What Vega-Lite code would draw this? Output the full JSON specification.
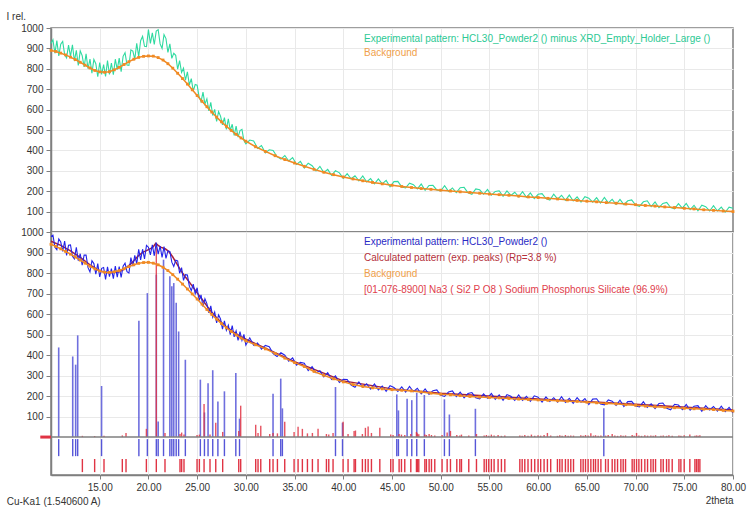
{
  "$schema": "https://vega.github.io/schema/vega-lite/v6.json",
  "padding": {"left": 5, "top": 10, "right": 2, "bottom": 2},
  "background": "white",
  "config": {
    "font": "Liberation Sans",
    "view": {"stroke": "#7f7f7f", "strokeWidth": 1.5},
    "axis": {
      "gridColor": "#e9e9e9", "gridWidth": 1,
      "domainColor": "#7f7f7f", "domainWidth": 1.5,
      "tickColor": "#7f7f7f", "tickSize": 5,
      "labelColor": "#333333", "labelFontSize": 10, "labelFont": "Liberation Sans", "labelPadding": 3, "labelOverlap": false,
      "titleFont": "Liberation Sans", "titleFontSize": 10, "titleFontWeight": "normal", "titleColor": "#333333"
    },
    "legend": {
      "orient": "none", "title": null, "padding": 0,
      "symbolSize": 0, "symbolOpacity": 0, "symbolStrokeWidth": 0, "labelOffset": 0,
      "labelFont": "Liberation Sans", "labelFontSize": 10, "labelLimit": 600
    }
  },
  "datasets": {
    "pattern": [
      {"t":10.0,"top":924,"bot":978},{"t":10.2,"top":942,"bot":984},{"t":10.4,"top":876,"bot":926},{"t":10.6,"top":938,"bot":914},{"t":10.8,"top":863,"bot":966},
      {"t":11.0,"top":921,"bot":951},{"t":11.2,"top":934,"bot":905},{"t":11.4,"top":870,"bot":956},{"t":11.6,"top":854,"bot":886},{"t":11.8,"top":916,"bot":935},
      {"t":12.0,"top":861,"bot":937},{"t":12.2,"top":918,"bot":882},{"t":12.4,"top":838,"bot":869},{"t":12.6,"top":891,"bot":925},{"t":12.8,"top":817,"bot":860},
      {"t":13.0,"top":888,"bot":894},{"t":13.2,"top":865,"bot":838},{"t":13.4,"top":809,"bot":887},{"t":13.6,"top":873,"bot":887},{"t":13.8,"top":800,"bot":826},
      {"t":14.0,"top":848,"bot":805},{"t":14.2,"top":779,"bot":860},{"t":14.4,"top":846,"bot":846},{"t":14.6,"top":825,"bot":795},{"t":14.8,"top":761,"bot":846},
      {"t":15.0,"top":831,"bot":781},{"t":15.2,"top":773,"bot":823},{"t":15.4,"top":821,"bot":827},{"t":15.6,"top":763,"bot":769},{"t":15.8,"top":840,"bot":830},
      {"t":16.0,"top":772,"bot":782},{"t":16.2,"top":828,"bot":821},{"t":16.4,"top":771,"bot":773},{"t":16.6,"top":847,"bot":834},{"t":16.8,"top":796,"bot":780},
      {"t":17.0,"top":852,"bot":831},{"t":17.2,"top":786,"bot":779},{"t":17.4,"top":861,"bot":833},{"t":17.6,"top":879,"bot":848},{"t":17.8,"top":819,"bot":807},
      {"t":18.0,"top":817,"bot":800},{"t":18.2,"top":893,"bot":875},{"t":18.4,"top":887,"bot":833},{"t":18.6,"top":847,"bot":886},{"t":18.8,"top":925,"bot":845},
      {"t":19.0,"top":860,"bot":915},{"t":19.2,"top":938,"bot":864},{"t":19.4,"top":959,"bot":916},{"t":19.6,"top":910,"bot":869},{"t":19.8,"top":909,"bot":935},
      {"t":20.0,"top":992,"bot":926},{"t":20.2,"top":925,"bot":888},{"t":20.4,"top":976,"bot":937},{"t":20.6,"top":919,"bot":884},{"t":20.8,"top":985,"bot":948},
      {"t":21.0,"top":992,"bot":892},{"t":21.2,"top":922,"bot":931},{"t":21.4,"top":900,"bot":876},{"t":21.6,"top":968,"bot":929},{"t":21.8,"top":948,"bot":871},
      {"t":22.0,"top":880,"bot":908},{"t":22.2,"top":922,"bot":905},{"t":22.4,"top":851,"bot":853},{"t":22.6,"top":876,"bot":832},{"t":22.8,"top":866,"bot":862},
      {"t":23.0,"top":798,"bot":859},{"t":23.2,"top":840,"bot":799},{"t":23.4,"top":782,"bot":826},{"t":23.6,"top":803,"bot":764},{"t":23.8,"top":744,"bot":792},
      {"t":24.0,"top":785,"bot":790},{"t":24.2,"top":721,"bot":736},{"t":24.4,"top":752,"bot":714},{"t":24.6,"top":691,"bot":746},{"t":24.8,"top":723,"bot":699},
      {"t":25.0,"top":720,"bot":728},{"t":25.2,"top":663,"bot":666},{"t":25.4,"top":639,"bot":693},{"t":25.6,"top":686,"bot":636},{"t":25.8,"top":627,"bot":674},
      {"t":26.0,"top":653,"bot":651},{"t":26.2,"top":594,"bot":606},{"t":26.4,"top":636,"bot":640},{"t":26.6,"top":571,"bot":585},{"t":26.8,"top":601,"bot":610},
      {"t":27.0,"top":542,"bot":557},{"t":27.2,"top":590,"bot":596},{"t":27.4,"top":568,"bot":576},{"t":27.6,"top":525,"bot":526},{"t":27.8,"top":561,"bot":567},
      {"t":28.0,"top":503,"bot":521},{"t":28.2,"top":555,"bot":546},{"t":28.4,"top":498,"bot":500},{"t":28.6,"top":528,"bot":543},{"t":28.8,"top":473,"bot":489},
      {"t":29.0,"top":519,"bot":518},{"t":29.2,"top":465,"bot":471},{"t":29.4,"top":497,"bot":514},{"t":29.6,"top":503,"bot":471},{"t":29.8,"top":448,"bot":501},
      {"t":30.0,"top":432,"bot":448},
      {"t":30.4,"top":451,"bot":484},{"t":30.8,"top":446,"bot":448},{"t":31.2,"top":410,"bot":459},{"t":31.6,"top":424,"bot":429},{"t":32.0,"top":388,"bot":447},
      {"t":32.4,"top":403,"bot":441},{"t":32.8,"top":400,"bot":407},{"t":33.2,"top":369,"bot":393},{"t":33.6,"top":357,"bot":411},{"t":34.0,"top":375,"bot":399},
      {"t":34.4,"top":348,"bot":370},{"t":34.8,"top":365,"bot":386},{"t":35.2,"top":331,"bot":351},{"t":35.6,"top":346,"bot":364},{"t":36.0,"top":314,"bot":360},
      {"t":36.4,"top":337,"bot":324},{"t":36.8,"top":325,"bot":343},{"t":37.2,"top":300,"bot":313},{"t":37.6,"top":322,"bot":323},{"t":38.0,"top":291,"bot":294},
      {"t":38.4,"top":307,"bot":314},{"t":38.8,"top":278,"bot":281},{"t":39.2,"top":301,"bot":298},{"t":39.6,"top":290,"bot":266},{"t":40.0,"top":263,"bot":282},
      {"t":40.4,"top":286,"bot":281},{"t":40.8,"top":261,"bot":254},{"t":41.2,"top":276,"bot":243},{"t":41.6,"top":251,"bot":269},{"t":42.0,"top":275,"bot":243},
      {"t":42.4,"top":245,"bot":260},{"t":42.8,"top":262,"bot":234},{"t":43.2,"top":236,"bot":259},{"t":43.6,"top":260,"bot":230},{"t":44.0,"top":236,"bot":249},
      {"t":44.4,"top":253,"bot":223},{"t":44.8,"top":222,"bot":250},{"t":45.2,"top":247,"bot":242},{"t":45.6,"top":248,"bot":223},{"t":46.0,"top":221,"bot":245},
      {"t":46.4,"top":216,"bot":219},{"t":46.8,"top":239,"bot":247},{"t":47.2,"top":232,"bot":221},{"t":47.6,"top":211,"bot":238},{"t":48.0,"top":235,"bot":211},
      {"t":48.4,"top":204,"bot":235},{"t":48.8,"top":228,"bot":208},{"t":49.2,"top":229,"bot":226},{"t":49.6,"top":206,"bot":230},{"t":50.0,"top":201,"bot":204},
      {"t":50.4,"top":227,"bot":198},{"t":50.8,"top":199,"bot":220},{"t":51.2,"top":216,"bot":225},{"t":51.6,"top":193,"bot":197},{"t":52.0,"top":217,"bot":219},
      {"t":52.4,"top":219,"bot":191},{"t":52.8,"top":192,"bot":212},{"t":53.2,"top":185,"bot":217},{"t":53.6,"top":211,"bot":192},{"t":54.0,"top":207,"bot":186},
      {"t":54.4,"top":185,"bot":211},{"t":54.8,"top":209,"bot":190},{"t":55.2,"top":181,"bot":213},{"t":55.6,"top":199,"bot":184},{"t":56.0,"top":202,"bot":206},
      {"t":56.4,"top":175,"bot":179},{"t":56.8,"top":201,"bot":207},{"t":57.2,"top":179,"bot":199},{"t":57.6,"top":195,"bot":179},{"t":58.0,"top":172,"bot":205},
      {"t":58.4,"top":198,"bot":179},{"t":58.8,"top":170,"bot":199},{"t":59.2,"top":192,"bot":174},{"t":59.6,"top":164,"bot":201},{"t":60.0,"top":185,"bot":194},
      {"t":60.4,"top":188,"bot":170},{"t":60.8,"top":164,"bot":196},{"t":61.2,"top":157,"bot":174},{"t":61.6,"top":185,"bot":192},{"t":62.0,"top":161,"bot":170},
      {"t":62.4,"top":180,"bot":197},{"t":62.8,"top":155,"bot":169},{"t":63.2,"top":181,"bot":189},{"t":63.6,"top":152,"bot":165},{"t":64.0,"top":172,"bot":192},
      {"t":64.4,"top":147,"bot":170},{"t":64.8,"top":173,"bot":188},{"t":65.2,"top":166,"bot":159},{"t":65.6,"top":146,"bot":185},{"t":66.0,"top":168,"bot":187},
      {"t":66.4,"top":142,"bot":161},{"t":66.8,"top":169,"bot":157},{"t":67.2,"top":143,"bot":181},{"t":67.6,"top":160,"bot":175},{"t":68.0,"top":135,"bot":155},
      {"t":68.4,"top":160,"bot":180},{"t":68.8,"top":134,"bot":149},{"t":69.2,"top":153,"bot":173},{"t":69.6,"top":157,"bot":174},{"t":70.0,"top":132,"bot":151},
      {"t":70.4,"top":126,"bot":147},{"t":70.8,"top":148,"bot":173},{"t":71.2,"top":153,"bot":145},{"t":71.6,"top":125,"bot":162},{"t":72.0,"top":147,"bot":139},
      {"t":72.4,"top":119,"bot":164},{"t":72.8,"top":140,"bot":166},{"t":73.2,"top":145,"bot":140},{"t":73.6,"top":120,"bot":133},{"t":74.0,"top":114,"bot":160},
      {"t":74.4,"top":139,"bot":156},{"t":74.8,"top":117,"bot":134},{"t":75.2,"top":140,"bot":159},{"t":75.6,"top":110,"bot":131},{"t":76.0,"top":131,"bot":150},
      {"t":76.4,"top":104,"bot":153},{"t":76.8,"top":131,"bot":126},{"t":77.2,"top":124,"bot":153},{"t":77.6,"top":103,"bot":132},{"t":78.0,"top":129,"bot":149},
      {"t":78.4,"top":103,"bot":126},{"t":78.8,"top":122,"bot":151},{"t":79.2,"top":97,"bot":124},{"t":79.6,"top":122,"bot":145},{"t":80.0,"top":116,"bot":118}
    ],
    "background": [
      {"t":10,"top":890,"bot":940},{"t":10.5,"top":885,"bot":930},{"t":11,"top":877,"bot":918},{"t":11.5,"top":868,"bot":905},{"t":12,"top":857,"bot":892},
      {"t":12.5,"top":845,"bot":878},{"t":13,"top":832,"bot":863},{"t":13.5,"top":818,"bot":848},{"t":14,"top":804,"bot":833},{"t":14.5,"top":792,"bot":820},
      {"t":15,"top":785,"bot":810},{"t":15.5,"top":783,"bot":804},{"t":16,"top":786,"bot":803},{"t":16.5,"top":795,"bot":806},{"t":17,"top":807,"bot":812},
      {"t":17.5,"top":821,"bot":821},{"t":18,"top":835,"bot":831},{"t":18.5,"top":847,"bot":840},{"t":19,"top":856,"bot":847},{"t":19.5,"top":861,"bot":851},
      {"t":20,"top":863,"bot":852},{"t":20.5,"top":862,"bot":848},{"t":21,"top":855,"bot":840},{"t":21.5,"top":843,"bot":828},{"t":22,"top":825,"bot":812},
      {"t":22.5,"top":803,"bot":792},{"t":23,"top":778,"bot":770},{"t":23.5,"top":752,"bot":746},{"t":24,"top":725,"bot":722},{"t":24.5,"top":697,"bot":698},
      {"t":25,"top":669,"bot":673},{"t":25.5,"top":641,"bot":648},{"t":26,"top":614,"bot":622},{"t":26.5,"top":588,"bot":598},{"t":27,"top":563,"bot":575},
      {"t":27.5,"top":540,"bot":553},{"t":28,"top":518,"bot":533},{"t":28.5,"top":498,"bot":515},{"t":29,"top":479,"bot":498},{"t":29.5,"top":461,"bot":483},
      {"t":30,"top":445,"bot":469},{"t":31,"top":418,"bot":450},{"t":32,"top":395,"bot":430},{"t":33,"top":374,"bot":408},{"t":34,"top":355,"bot":385},
      {"t":35,"top":338,"bot":363},{"t":36,"top":322,"bot":344},{"t":37,"top":307,"bot":320},{"t":38,"top":293,"bot":301},{"t":39,"top":281,"bot":284},
      {"t":40,"top":270,"bot":269},{"t":41,"top":260,"bot":256},{"t":42,"top":251,"bot":247},{"t":43,"top":243,"bot":240},{"t":44,"top":236,"bot":235},
      {"t":45,"top":229,"bot":231},{"t":46,"top":223,"bot":228},{"t":47,"top":218,"bot":225},{"t":48,"top":213,"bot":220},{"t":49,"top":209,"bot":214},
      {"t":50,"top":205,"bot":209},{"t":51,"top":201,"bot":206},{"t":52,"top":197,"bot":202},{"t":53,"top":194,"bot":198},{"t":54,"top":190,"bot":195},
      {"t":55,"top":186,"bot":193},{"t":56,"top":183,"bot":191},{"t":57,"top":180,"bot":188},{"t":58,"top":176,"bot":185},{"t":59,"top":172,"bot":183},
      {"t":60,"top":169,"bot":181},{"t":61,"top":165,"bot":179},{"t":62,"top":162,"bot":177},{"t":63,"top":158,"bot":175},{"t":64,"top":155,"bot":174},
      {"t":65,"top":151,"bot":170},{"t":66,"top":148,"bot":167},{"t":67,"top":144,"bot":164},{"t":68,"top":141,"bot":162},{"t":69,"top":137,"bot":158},
      {"t":70,"top":134,"bot":155},{"t":71,"top":130,"bot":151},{"t":72,"top":127,"bot":148},{"t":73,"top":123,"bot":145},{"t":74,"top":120,"bot":143},
      {"t":75,"top":116,"bot":140},{"t":76,"top":113,"bot":138},{"t":77,"top":109,"bot":136},{"t":78,"top":106,"bot":134},{"t":79,"top":103,"bot":130},
      {"t":80,"top":100,"bot":127}
    ],
    "calc": [
      {"t":10,"i":955},{"t":11,"i":935},{"t":12,"i":908},{"t":13,"i":876},{"t":14,"i":840},{"t":15,"i":810},{"t":16,"i":800},{"t":17,"i":806},
      {"t":17.5,"i":818},{"t":18,"i":836},{"t":18.5,"i":860},{"t":19,"i":886},{"t":19.25,"i":895},{"t":19.5,"i":903},{"t":19.75,"i":908},
      {"t":20,"i":914},{"t":20.25,"i":920},{"t":20.5,"i":928},{"t":20.75,"i":945},{"t":21,"i":935},{"t":21.25,"i":926},{"t":21.5,"i":922},
      {"t":21.75,"i":918},{"t":22,"i":908},{"t":22.25,"i":895},{"t":22.5,"i":878},{"t":22.75,"i":858},{"t":23,"i":838},{"t":23.25,"i":818},
      {"t":23.5,"i":800},{"t":23.75,"i":783},{"t":24,"i":768},{"t":24.5,"i":736},{"t":25,"i":703},{"t":25.5,"i":672},{"t":26,"i":640},
      {"t":26.5,"i":609},{"t":27,"i":582},{"t":27.5,"i":558},{"t":28,"i":538},{"t":29,"i":503},{"t":30,"i":477},{"t":31,"i":455},
      {"t":35,"i":368},{"t":40,"i":274},{"t":45,"i":235},{"t":50,"i":214},{"t":60,"i":186},{"t":70,"i":160},{"t":80,"i":132}
    ],
    "sticksBlue": [
      {"t":10.79,"i":437},{"t":12.23,"i":393},{"t":12.53,"i":353},{"t":12.74,"i":496},{"t":15.19,"i":249},{"t":19.02,"i":567},
      {"t":19.89,"i":702},{"t":20.81,"i":792},{"t":21.0,"i":76},{"t":21.55,"i":865},{"t":22.2,"i":784},{"t":22.4,"i":735},
      {"t":22.6,"i":751},{"t":22.85,"i":655},{"t":23.1,"i":515},{"t":23.79,"i":377},{"t":25.33,"i":280},{"t":25.75,"i":120},
      {"t":26.12,"i":263},{"t":26.6,"i":326},{"t":27.13,"i":174},{"t":27.8,"i":223},{"t":28.97,"i":312},{"t":29.35,"i":90},
      {"t":32.79,"i":211},{"t":33.58,"i":285},{"t":33.75,"i":140},{"t":39.2,"i":244},{"t":39.92,"i":70},{"t":45.49,"i":208},
      {"t":45.66,"i":130},{"t":46.55,"i":187},{"t":47.03,"i":180},{"t":47.54,"i":216},{"t":48.32,"i":205},{"t":50.38,"i":184},
      {"t":50.89,"i":110},{"t":53.56,"i":138},{"t":66.74,"i":140}
    ],
    "sticksRed": [
      {"t":13.22,"i":6},{"t":14.48,"i":5},{"t":15.44,"i":6},{"t":17.32,"i":8},{"t":17.70,"i":20},{"t":19.79,"i":40},{"t":20.81,"i":940},
      {"t":21.70,"i":20},{"t":23.24,"i":15},{"t":23.41,"i":22},{"t":23.65,"i":12},{"t":24.99,"i":10},{"t":25.23,"i":12},{"t":25.71,"i":161},
      {"t":26.32,"i":12},{"t":26.91,"i":70},{"t":27.62,"i":25},{"t":29.27,"i":30},{"t":29.47,"i":153},{"t":31.01,"i":60},{"t":31.25,"i":20},
      {"t":31.53,"i":55},{"t":32.45,"i":15},{"t":32.79,"i":20},{"t":33.24,"i":18},{"t":33.99,"i":75},{"t":34.95,"i":25},{"t":35.36,"i":50},
      {"t":35.80,"i":40},{"t":36.32,"i":18},{"t":36.83,"i":20},{"t":37.41,"i":40},{"t":38.27,"i":15},{"t":38.51,"i":12},{"t":38.95,"i":20},
      {"t":39.98,"i":75},{"t":40.49,"i":15},{"t":41.11,"i":30},{"t":41.25,"i":32},{"t":41.96,"i":15},{"t":42.27,"i":45},{"t":42.55,"i":52},
      {"t":42.89,"i":20},{"t":43.75,"i":45},{"t":44.87,"i":12},{"t":45.11,"i":10},{"t":45.73,"i":15},{"t":45.97,"i":12},{"t":46.31,"i":10},
      {"t":46.93,"i":15},{"t":47.51,"i":25},{"t":47.61,"i":18},{"t":47.75,"i":14},{"t":48.37,"i":12},{"t":48.53,"i":10},{"t":48.81,"i":15},
      {"t":49.05,"i":10},{"t":49.39,"i":8},{"t":50.14,"i":10},{"t":50.66,"i":22},{"t":51.0,"i":30},{"t":51.65,"i":10},{"t":51.96,"i":8},
      {"t":52.13,"i":12},{"t":52.88,"i":8},{"t":53.67,"i":15},{"t":54.46,"i":8},{"t":54.69,"i":10},{"t":54.93,"i":6},{"t":55.2,"i":12},
      {"t":55.48,"i":8},{"t":55.89,"i":10},{"t":56.23,"i":6},{"t":56.58,"i":8},{"t":58.12,"i":8},{"t":58.36,"i":6},{"t":58.63,"i":10},
      {"t":58.96,"i":7},{"t":59.31,"i":12},{"t":59.65,"i":6},{"t":59.99,"i":9},{"t":60.26,"i":7},{"t":60.61,"i":10},{"t":60.95,"i":20},
      {"t":61.29,"i":8},{"t":61.98,"i":6},{"t":62.22,"i":9},{"t":62.46,"i":7},{"t":62.80,"i":10},{"t":63.08,"i":6},{"t":63.35,"i":8},
      {"t":63.63,"i":7},{"t":64.38,"i":9},{"t":64.62,"i":6},{"t":64.86,"i":10},{"t":65.13,"i":8},{"t":65.41,"i":18},{"t":65.68,"i":7},
      {"t":65.89,"i":9},{"t":66.16,"i":6},{"t":66.44,"i":8},{"t":66.92,"i":7},{"t":67.19,"i":10},{"t":67.60,"i":15},{"t":67.87,"i":8},
      {"t":68.15,"i":6},{"t":68.49,"i":9},{"t":68.73,"i":7},{"t":68.97,"i":8},{"t":69.65,"i":10},{"t":69.86,"i":7},{"t":70.10,"i":20},
      {"t":70.34,"i":8},{"t":70.61,"i":6},{"t":70.95,"i":9},{"t":71.23,"i":7},{"t":71.57,"i":8},{"t":71.81,"i":6},{"t":72.05,"i":9},
      {"t":72.60,"i":7},{"t":72.84,"i":8},{"t":73.18,"i":6},{"t":73.42,"i":9},{"t":73.76,"i":7},{"t":74.45,"i":8},{"t":74.65,"i":6},
      {"t":74.99,"i":9},{"t":75.57,"i":12},{"t":76.09,"i":7},{"t":76.26,"i":8},{"t":76.43,"i":6},{"t":76.60,"i":9}
    ]
  },
  "spacing": 0,
  "bounds": "flush",
  "resolve": {"scale": {"color": "independent", "x": "independent"}, "legend": {"color": "independent"}},
  "vconcat": [
    {
      "width": 682,
      "height": 204,
      "layer": [
        {
          "data": {"name": "pattern"},
          "mark": {"type": "line", "strokeWidth": 1.1},
          "encoding": {
            "x": {"field": "t", "type": "quantitative",
                  "scale": {"domain": [10, 80], "nice": false, "zero": false},
                  "axis": {"values": [15,20,25,30,35,40,45,50,55,60,65,70,75], "tickCount": 30, "labels": false, "ticks": false, "domain": false, "title": null, "grid": true}},
            "y": {"field": "top", "type": "quantitative",
                  "scale": {"domain": [0, 1000], "nice": false},
                  "axis": {"values": [100,200,300,400,500,600,700,800,900,1000], "tickCount": 30, "format": "d", "grid": true, "labelOverlap": false,
                           "title": "I rel.", "titleAngle": 0, "titleAlign": "left", "titleBaseline": "alphabetic",
                           "titleX": -45, "titleY": -9}},
            "color": {"datum": "Experimental pattern: HCL30_Powder2 () minus XRD_Empty_Holder_Large ()",
                      "scale": {"domain": ["Experimental pattern: HCL30_Powder2 () minus XRD_Empty_Holder_Large ()", "Background"],
                                "range": ["#2fdaa0", "#f08a24"]},
                      "legend": {"legendX": 303, "legendY": 6, "rowPadding": 4,
                                 "encode": {"labels": {"update": {"fill": {"signal": "['#2cc994', '#f0a04a'][datum.index]"}}}}}}
          }
        },
        {
          "data": {"name": "background"},
          "mark": {"type": "line", "strokeWidth": 1.5, "point": {"shape": "square", "size": 8, "filled": true}},
          "encoding": {
            "x": {"field": "t", "type": "quantitative"},
            "y": {"field": "top", "type": "quantitative"},
            "color": {"datum": "Background"}
          }
        }
      ]
    },
    {
      "width": 682,
      "height": 243,
      "title": {"text": "Cu-Ka1 (1.540600 A)", "orient": "bottom", "anchor": "start", "dx": -14, "offset": -8,
                "fontSize": 10, "fontWeight": "normal", "color": "#333333", "font": "Liberation Sans"},
      "layer": [
        {
          "data": {"name": "sticksBlue"},
          "mark": {"type": "rule", "color": "#5656d8", "strokeWidth": 1.6, "opacity": 0.85},
          "encoding": {
            "x": {"field": "t", "type": "quantitative",
                  "scale": {"domain": [10, 80], "nice": false, "zero": false},
                  "axis": {"values": [15,20,25,30,35,40,45,50,55,60,65,70,75,80], "tickCount": 30, "format": ".2f", "grid": true, "labelOverlap": false, "labelFlush": false,
                           "tickSize": 4, "title": "2theta", "titleAnchor": "end", "titlePadding": 3}},
            "y": {"field": "i", "type": "quantitative",
                  "scale": {"domain": [-185, 1000], "nice": false},
                  "axis": {"values": [100,200,300,400,500,600,700,800,900,1000], "tickCount": 30, "format": "d", "grid": true, "labelOverlap": false, "title": null}},
            "y2": {"datum": 0}
          }
        },
        {
          "data": {"name": "sticksRed"},
          "mark": {"type": "rule", "strokeWidth": 1.4, "opacity": 0.85},
          "encoding": {
            "x": {"field": "t", "type": "quantitative"},
            "y": {"field": "i", "type": "quantitative"},
            "y2": {"datum": 0},
            "color": {"datum": "[01-076-8900] Na3 ( Si2 P O8 ) Sodium Phosphorus Silicate (96.9%)"}
          }
        },
        {
          "data": {"name": "calc"},
          "mark": {"type": "line", "strokeWidth": 1.5},
          "encoding": {
            "x": {"field": "t", "type": "quantitative"},
            "y": {"field": "i", "type": "quantitative"},
            "color": {"datum": "Calculated pattern (exp. peaks) (Rp=3.8 %)"}
          }
        },
        {
          "data": {"name": "pattern"},
          "mark": {"type": "line", "strokeWidth": 1.1},
          "encoding": {
            "x": {"field": "t", "type": "quantitative"},
            "y": {"field": "bot", "type": "quantitative"},
            "color": {"datum": "Experimental pattern: HCL30_Powder2 ()",
                      "scale": {"domain": ["Experimental pattern: HCL30_Powder2 ()", "Calculated pattern (exp. peaks) (Rp=3.8 %)", "Background", "[01-076-8900] Na3 ( Si2 P O8 ) Sodium Phosphorus Silicate (96.9%)"],
                                "range": ["#2424e8", "#a8203a", "#f08a24", "#e03444"]},
                      "legend": {"legendX": 303, "legendY": 5, "rowPadding": 6,
                                 "encode": {"labels": {"update": {"fill": {"signal": "['#2a2ac4', '#b3303a', '#f0a04a', '#e0404c'][datum.index]"}}}}}}
          }
        },
        {
          "data": {"name": "background"},
          "mark": {"type": "line", "strokeWidth": 1.5, "point": {"shape": "square", "size": 8, "filled": true}},
          "encoding": {
            "x": {"field": "t", "type": "quantitative"},
            "y": {"field": "bot", "type": "quantitative"},
            "color": {"datum": "Background"}
          }
        },
        {
          "data": {"values": [{}]},
          "mark": {"type": "rule", "color": "#7f7f7f", "strokeWidth": 1.5},
          "encoding": {"y": {"datum": 0}}
        },
        {
          "data": {"values": [{}]},
          "mark": {"type": "rule", "color": "#e03444", "strokeWidth": 3, "clip": false},
          "encoding": {"x": {"datum": 8.9}, "x2": {"datum": 10}, "y": {"datum": 0}}
        },
        {
          "data": {"name": "sticksBlue"},
          "mark": {"type": "rule", "color": "#5656d8", "strokeWidth": 1.4},
          "encoding": {
            "x": {"field": "t", "type": "quantitative"},
            "y": {"datum": -10},
            "y2": {"datum": -93}
          }
        },
        {
          "data": {"name": "sticksRed"},
          "mark": {"type": "rule", "strokeWidth": 1.4},
          "encoding": {
            "x": {"field": "t", "type": "quantitative"},
            "y": {"datum": -107},
            "y2": {"datum": -171},
            "color": {"datum": "[01-076-8900] Na3 ( Si2 P O8 ) Sodium Phosphorus Silicate (96.9%)"}
          }
        }
      ]
    }
  ]
}
